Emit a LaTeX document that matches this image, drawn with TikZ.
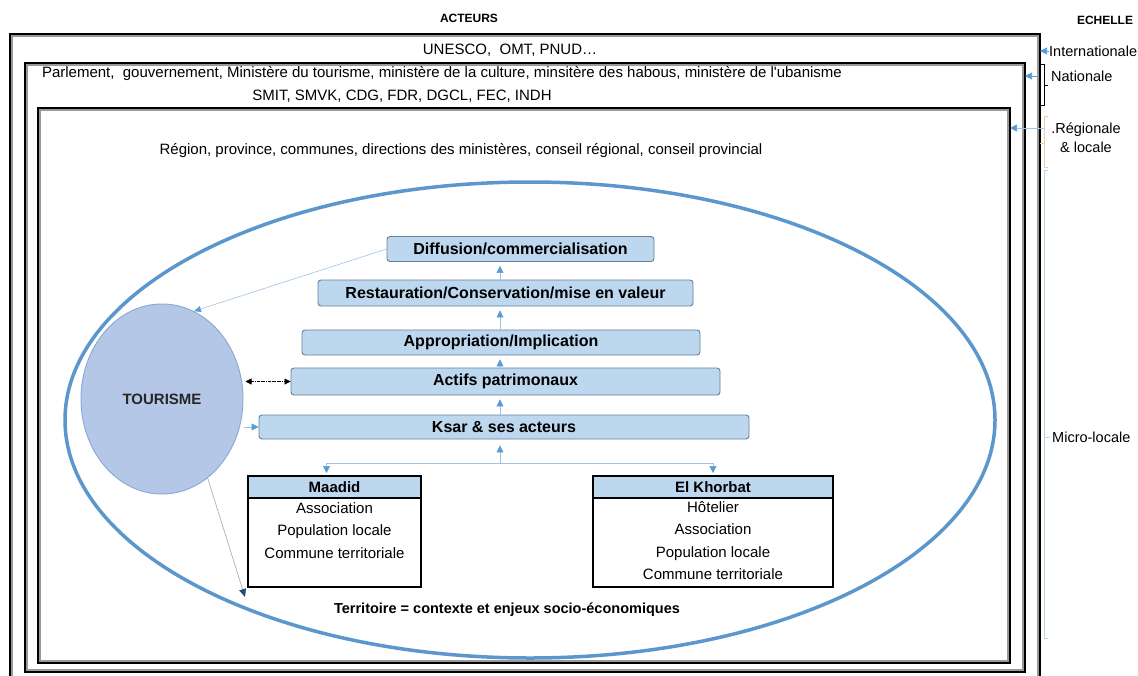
\documentclass[tikz,border=0pt]{standalone}
\usepackage{fontspec}
\setmainfont{Liberation Sans}
\usetikzlibrary{arrows.meta,shapes.geometric,calc}

\definecolor{stagefill}{RGB}{189,215,238}
\definecolor{stageline}{RGB}{100,128,158}
\definecolor{tourfill}{RGB}{180,199,231}
\definecolor{tourline}{RGB}{143,170,215}
\definecolor{ellblue}{RGB}{91,150,205}
\definecolor{flowline}{RGB}{157,195,230}
\definecolor{tipblue}{RGB}{91,155,213}
\definecolor{navy}{RGB}{31,78,121}
\definecolor{tanline}{RGB}{232,204,165}
\definecolor{microline}{RGB}{182,212,228}

\begin{document}
\begin{tikzpicture}[x=1pt,y=-1pt,
  frame/.style={draw,line width=2.8pt,inner sep=0pt,outer sep=0pt},
  shade/.style={draw=black!40,line width=1.2pt,inner sep=0pt,outer sep=0pt},
  txt/.style={font=\fontsize{15}{18}\selectfont},
  stage/.style={draw=stageline,fill=stagefill,rounded corners=3pt,line width=0.9pt,
    minimum height=25,inner sep=0pt,font=\fontsize{16}{18}\selectfont\bfseries},
  hdr/.style={draw,line width=1.8pt,fill=stagefill,minimum height=22,inner sep=0pt,
    outer sep=0pt,font=\fontsize{15}{18}\selectfont\bfseries},
  lst/.style={draw,line width=1.8pt,minimum height=89,inner sep=0pt,outer sep=0pt},
  items/.style={align=center,anchor=north,inner sep=0pt,font=\fontsize{15}{22.5}\selectfont},
  flow/.style={flowline,line width=0.7pt,-{Triangle[length=7pt,width=7pt,color=tipblue]}},
  scl/.style={font=\fontsize{14.5}{19}\selectfont},
  ttl/.style={font=\fontsize{12}{14}\selectfont\bfseries}
]
  \useasboundingbox (0,0) rectangle (1138,675);

  % frames
  \node[shade,minimum width=1026,minimum height=668] at (525,370) {};
  \node[shade,minimum width=996,minimum height=605] at (525,367.5) {};
  \node[shade,minimum width=968,minimum height=551] at (524,385.5) {};
  \node[frame,minimum width=1030,minimum height=672] (fr1) at (525,370) {};
  \node[frame,minimum width=1000,minimum height=609] (fr2) at (525,367.5) {};
  \node[frame,minimum width=972,minimum height=555] (fr3) at (524,385.5) {};

  \node[ttl] (act) at (469,18) {ACTEURS};
  \node[ttl] (ech) at (1105,20) {ECHELLE};
  \node[txt] (intla) at (510,50) {UNESCO,\ \ OMT, PNUD…};
  \node[txt] (nata) at (442,74) {Parlement,\ \ gouvernement, Ministère du tourisme, ministère de la culture, minsitère des habous, ministère de l\textquotesingle ubanisme};
  \node[txt] (natb) at (402,96) {SMIT, SMVK, CDG, FDR, DGCL, FEC, INDH};
  \node[txt] (rega) at (461,151) {Région, province, communes, directions des ministères, conseil régional, conseil provincial};

  % territoire
  \node[draw=ellblue,line width=3.5pt,ellipse,minimum width=930,minimum height=476,inner sep=0pt] (terr) at (530,420) {};
  \node[font=\fontsize{14.5}{18}\selectfont\bfseries] (terrl) at (507,610) {Territoire = contexte et enjeux socio-économiques};

  % stages
  \node[stage,minimum width=267] (diff) at (520.5,249) {Diffusion/commercialisation};
  \node[stage,minimum width=375,minimum height=26] (rest) at (505.5,293) {Restauration/Conservation/mise en valeur};
  \node[stage,minimum width=398] (appr) at (501,342.5) {Appropriation/Implication};
  \node[stage,minimum width=429,minimum height=27] (actif) at (505.5,381.5) {Actifs patrimonaux};
  \node[stage,minimum width=490,minimum height=24] (ksar) at (504,427) {Ksar \& ses acteurs};

  \coordinate (axis) at (500,0);
  \foreach \a/\b in {ksar/actif,actif/appr,appr/rest,rest/diff}
    \draw[flow,shorten >=4pt] (\a.north -| axis) -- (\b.south -| axis);

  % ksars
  \node[hdr,minimum width=173] (mad) at (334.5,487) {Maadid};
  \node[lst,minimum width=173,anchor=north] (madl) at (mad.south) {};
  \node[items] at ([yshift=-4pt]madl.north) {Association\\Population locale\\Commune territoriale};

  \node[hdr,minimum width=240] (khor) at (713,487) {El Khorbat};
  \node[lst,minimum width=240,anchor=north] (khorl) at (khor.south) {};
  \node[items] at ([yshift=-3pt]khorl.north) {Hôtelier\\Association\\Population locale\\Commune territoriale};

  \coordinate (split) at (500,463);
  \draw[flow,shorten >=6pt] (split) -- (ksar.south -| split);
  \draw[flowline,line width=0.7pt] ([xshift=-8pt]mad.north |- split) -- (khor.north |- split);
  \draw[flow,shorten >=3pt] ([xshift=-8pt]mad.north |- split) -- ([xshift=-8pt]mad.north);
  \draw[flow,shorten >=3pt] (khor.north |- split) -- (khor.north);

  % tourisme
  \node[ellipse,draw=tourline,fill=tourfill,line width=1pt,minimum width=162,minimum height=190,
    inner sep=0pt,text=black!85,font=\fontsize{15}{18}\selectfont\bfseries] (tour) at (162,399) {TOURISME};
  \draw[flowline,line width=0.6pt,-{Triangle[length=7pt,width=6pt,color=tipblue]}] (diff.west) -- (tour.70);
  \draw[densely dashdotted,line width=0.8pt,{Triangle[length=6pt,width=6pt]}-{Triangle[length=6pt,width=6pt]},
    shorten <=2pt] (actif.west -| tour.east) -- (actif.west);
  \draw[flow] (ksar.west -| tour.east) -- (ksar.west);
  \coordinate (tend) at (245,597);
  \draw[black!35,line width=0.6pt,-{Triangle[length=8pt,width=7pt,color=navy]}] (tour.-60) -- (tend);

  % echelle
  \node[scl,anchor=west,inner sep=0pt] (intl) at (1049,51) {Internationale};
  \draw[tipblue,line width=0.6pt,-{Triangle[length=7pt,width=7pt]}] (intl.west) -- (intl.west -| fr1.east);
  \node[scl,anchor=west,inner sep=0pt] (natl) at (1051,76) {Nationale};
  \draw[tipblue,line width=0.6pt,-{Triangle[length=7pt,width=7pt]},shorten <=3pt] (natl.west -| fr1.east) -- (natl.west -| fr2.east);
  \draw[line width=0.8pt] (1040,64) -- (1044,64) -- (1044,105) -- (1040,105) (1044,85) -- (1048,85);

  \node[scl,align=center,inner sep=0pt] (regl) at (1086,137.5) {.Régionale\\\& locale};
  \draw[tanline,line width=0.8pt] (1048,116) -- (1044,116) -- (1044,167) -- (1048,167) (1044,143) -- (1040,143);
  \coordinate (regb) at (1044,128);
  \draw[flow] (regb) -- (regb -| fr3.east);

  \draw[microline,line width=0.8pt] (1048,170) -- (1044,170) -- (1044,638) -- (1048,638) (1044,437) -- (1050,437);
  \node[scl,anchor=west,inner sep=0pt] (micro) at (1052,437) {Micro-locale};
\end{tikzpicture}
\end{document}
